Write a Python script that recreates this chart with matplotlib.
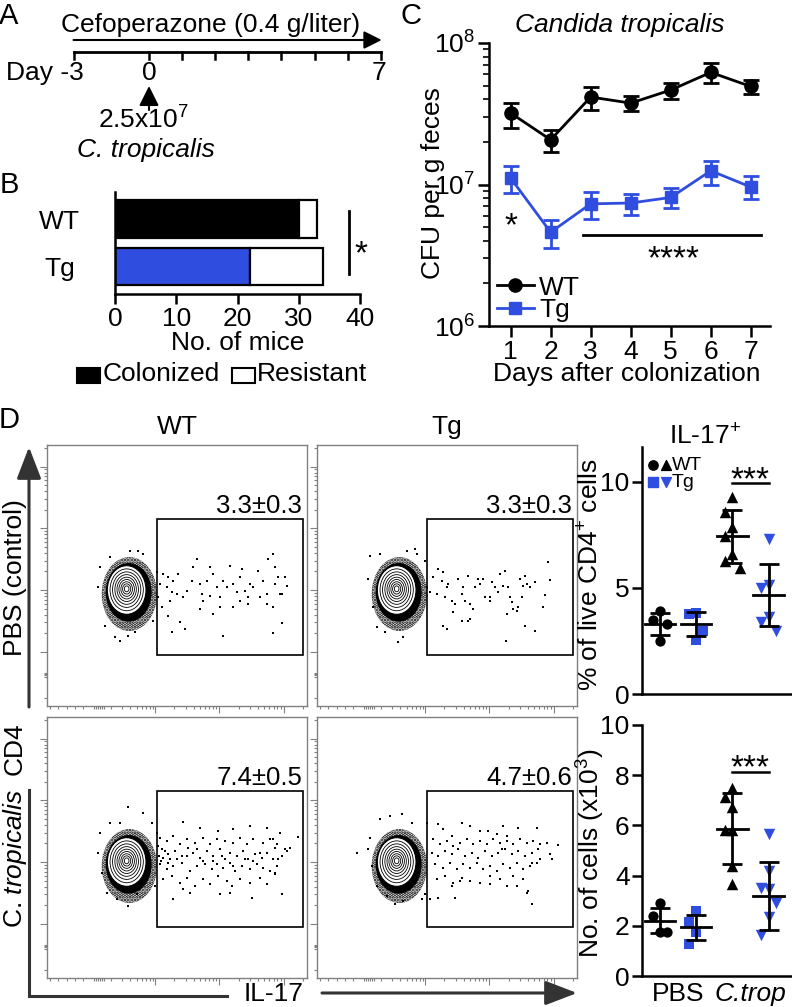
# Candida tropicalis colonization figure (panels A-D)

import numpy as np
import matplotlib as mpl
mpl.use('Agg')
import matplotlib.pyplot as plt
from matplotlib.patches import Ellipse, Rectangle
from matplotlib.lines import Line2D

plt.rcParams['font.family'] = ['Liberation Sans', 'DejaVu Sans']
plt.rcParams['mathtext.fontset'] = 'custom'
plt.rcParams['mathtext.rm'] = 'Liberation Sans'
plt.rcParams['mathtext.it'] = 'Liberation Sans:italic'
plt.rcParams['font.size'] = 19
plt.rcParams['hatch.linewidth'] = 1.8

W, H = 792, 1007
BLUE = '#2f4ee0'
STAR = 24

# ---------------- data ----------------
timeline_days = [-3, 0, 1, 2, 3, 4, 5, 6, 7]

mice_groups = ['WT', 'Tg']
mice_colonized = [30, 22]
mice_resistant = [3, 12]

cfu_days = [1, 2, 3, 4, 5, 6, 7]
wt_cfu = [3.2e7, 2.07e7, 4.15e7, 3.76e7, 4.65e7, 6.2e7, 4.93e7]
wt_cfu_hi = [3.76e7, 2.41e7, 4.88e7, 4.2e7, 5.2e7, 7.2e7, 5.44e7]
wt_cfu_lo = [2.5e7, 1.71e7, 3.37e7, 3.29e7, 4.04e7, 5.2e7, 4.36e7]
tg_cfu = [1.11e7, 4.6e6, 7.3e6, 7.4e6, 8.1e6, 1.25e7, 9.6e6]
tg_cfu_hi = [1.36e7, 5.6e6, 8.9e6, 8.6e6, 9.5e6, 1.46e7, 1.14e7]
tg_cfu_lo = [8.7e6, 3.55e6, 5.7e6, 6.1e6, 6.8e6, 1.0e7, 7.9e6]

# IL-17+ % of live CD4+ cells
il17_wt_pbs = [3.9, 3.5, 3.3, 2.5]
il17_tg_pbs = [3.8, 3.75, 2.95, 2.55]
il17_wt_ct = [9.3, 8.6, 7.9, 7.45, 6.6, 6.25, 5.95]
il17_tg_ct = [7.3, 5.15, 5.0, 3.65, 3.4, 2.95]
il17_mean = [3.3, 3.3, 7.45, 4.68]
il17_sd = [0.5, 0.58, 1.25, 1.47]

# No. of IL-17+ cells (x10^3)
cells_wt_pbs = [2.9, 2.4, 1.75, 1.75]
cells_tg_pbs = [2.58, 2.14, 1.75, 1.29]
cells_wt_ct = [7.5, 7.15, 6.75, 5.8, 5.8, 4.4, 3.65]
cells_tg_ct = [5.65, 4.2, 3.5, 3.45, 2.9, 2.35, 1.65]
cells_mean = [2.21, 1.95, 5.87, 3.2]
cells_sd = [0.5, 0.5, 1.42, 1.36]

gate_freq = ['3.3±0.3', '3.3±0.3', '7.4±0.5', '4.7±0.6']

# flow events (IL-17 channel, CD4 channel)
tl_events = np.array([
    (490,400),(505,410),(520,420),(535,400),(500,440),(515,455),(530,460),(510,480),(550,470),(560,450),
    (580,380),(575,420),(590,355),(600,430),(605,460),(620,420),(630,380),(640,400),(650,440),(660,470),
    (670,420),(680,440),(690,375),(700,430),(710,455),(720,410),(725,385),(735,450),(745,470),(750,430),
    (760,440),(775,390),(790,420),(800,460),(805,355),(820,340),(825,430),(835,410),(845,460),(860,435),
    (640,520),(660,500),(700,500),(720,480),(745,490),(780,470),(800,490),(820,500),(515,575),(555,565),
    (670,585),(820,578),(845,547),(485,500),(505,525),(540,545),(600,505),(610,480),(630,465),(825,380),
    (855,410),(840,460)])
tl_halo = np.array([(300,380),(295,440),(315,555),(345,590),(360,600),(385,585),(405,575),(415,330),
                    (430,340),(390,332),(460,540),(330,350),(470,395),(475,470),(480,430)])

tr_events = np.array([
    (505,385),(520,395),(515,420),(535,430),(500,460),(525,470),(545,480),(520,555),(530,565),(550,515),
    (565,415),(575,460),(580,440),(585,480),(595,405),(600,490),(610,505),(575,540),(600,535),(615,440),
    (625,415),(630,430),(640,415),(645,470),(660,480),(665,425),(675,440),(685,455),(690,400),(700,435),
    (705,390),(715,440),(720,470),(725,485),(710,520),(730,505),(740,510),(745,500),(750,415),(760,435),
    (765,405),(770,430),(780,440),(765,555),(795,425),(795,570),(820,500),(825,462),(835,365),(840,418),
    (707,600),(755,470),(530,440),(555,490),(595,540),(660,470)])
tr_halo = np.array([(300,345),(295,415),(310,500),(320,560),(345,575),(385,605),(400,590),(410,330),
                    (435,325),(440,340),(470,440),(480,455),(490,410),(330,340),(465,360)])

bl_events = np.array([
    (550,328),(600,345),(655,355),(700,350),(750,340),(800,345),(840,360),(895,372),
    (480,375),(500,385),(520,370),(540,395),(560,380),(585,390),(610,375),(630,395),(650,380),(675,385),
    (700,390),(720,375),(740,395),(760,380),(790,390),(810,380),(830,395),(870,405),
    (485,410),(505,425),(525,415),(545,430),(565,405),(580,420),(600,435),(620,415),(640,430),(660,410),
    (675,440),(690,420),(710,430),(730,415),(745,440),(765,425),(785,435),(800,420),(820,440),(845,430),
    (860,415),(480,455),(500,470),(520,460),(545,450),(570,475),(590,460),(610,445),(635,470),(650,455),
    (670,465),(690,450),(705,475),(725,460),(750,470),(770,455),(790,465),(810,475),(830,460),
    (490,500),(515,490),(540,510),(560,495),(585,520),(610,500),(630,515),(655,490),(680,505),(695,520),
    (720,500),(750,510),(780,495),(800,515),(825,485),(570,540),(660,545),(690,540),
    (550,530),(755,555),(845,545),(520,560),(820,380),(825,405),(840,360),(835,440),(855,410),(825,480),
    (475,400),(478,430),(482,445),(490,435),(495,415),(510,440),(505,450),(530,440),(560,430),(590,410),
    (615,455),(640,445),(665,430),(700,460),(735,440),(760,445),(780,420)])
bl_halo = np.array([(300,360),(295,420),(305,480),(320,540),(350,560),(385,580),(410,545),(430,300),
                    (385,283),(360,330),(470,360),(465,520),(330,330),(455,330)])

br_events = np.array([
    (505,335),(520,350),(545,370),(575,330),(600,340),(630,355),(655,355),(680,365),(700,340),(745,345),
    (800,345),(830,390),(865,398),(490,380),(510,395),(530,385),(550,400),(570,390),(590,380),(610,395),
    (630,385),(650,395),(670,380),(690,390),(710,385),(730,395),(750,380),(770,390),(790,385),(810,395),
    (485,420),(505,430),(525,415),(545,425),(565,410),(585,430),(605,420),(625,435),(645,415),(665,430),
    (685,420),(705,410),(725,425),(745,415),(765,430),(785,420),(805,410),(840,425),(845,440),
    (495,455),(520,465),(540,450),(560,470),(580,455),(600,465),(620,450),(640,470),(660,460),(680,475),
    (700,455),(720,465),(740,450),(760,470),(780,460),(800,450),(500,500),(525,490),(550,510),(575,495),
    (600,505),(630,510),(660,490),(690,500),(710,520),(730,490),(760,500),(775,535),(785,575),
    (480,560),(505,555),(555,555),(570,505),(545,520),(660,515),(740,520),(770,540),(710,370),(695,410),
    (810,440),(785,450)])
br_halo = np.array([(300,375),(295,410),(305,460),(320,520),(350,550),(375,575),(400,565),(425,330),
                    (395,305),(360,310),(470,330),(465,545),(330,320),(260,420),(455,560)])

ring_scale = [1.0, 0.86, 0.73, 0.61, 0.5, 0.4, 0.3, 0.21, 0.12]

# ---------------- helpers ----------------
fig = plt.figure(figsize=(W / 100, H / 100), dpi=100)


def px_ax(l, t, r, b):
    return fig.add_axes([l / W, 1 - b / H, (r - l) / W, (b - t) / H])


def swarm(vals, pos, ytol, dx=0.2):
    xs, done = [], []
    for v in vals:
        for k in (0, -1, 1, -2, 2):
            x = pos + k * dx
            if all(abs(v - pv) >= ytol or abs(x - px) > dx / 2 for px, pv in done):
                break
        done.append((x, v))
        xs.append(x)
    return xs


def clean(ax, lw=1.8):
    for s in ['top', 'right']:
        ax.spines[s].set_visible(False)
    for s in ['left', 'bottom']:
        ax.spines[s].set_linewidth(lw)


# ---------------- B: bar chart ----------------
axb = px_ax(115, 192, 360, 294)
ypos = [1, 0]
axb.barh(ypos, mice_colonized, height=0.8, color=['black', BLUE], edgecolor='black', lw=1.6)
axb.barh(ypos, mice_resistant, left=mice_colonized, height=0.8, color='white', edgecolor='black', lw=1.6)
axb.set_xlim(0, 40)
axb.set_ylim(-0.58, 1.57)
axb.set_xticks([0, 10, 20, 30, 40])
axb.set_yticks(ypos, mice_groups)
for lbl in axb.get_yticklabels():
    lbl.set_ha('center')
axb.tick_params(axis='y', length=0, pad=40)
axb.tick_params(axis='x', length=7, width=1.8, pad=2)
axb.set_xlabel('No. of mice', labelpad=0)
clean(axb)

# ---------------- C: CFU time course ----------------
axc = px_ax(489, 43, 770, 326)
wt_cfu_a, tg_cfu_a = np.array(wt_cfu), np.array(tg_cfu)
axc.errorbar(cfu_days, wt_cfu, yerr=[wt_cfu_a - wt_cfu_lo, np.array(wt_cfu_hi) - wt_cfu_a],
             fmt='o-', color='black', ms=9.5, lw=2, elinewidth=2, capsize=6, capthick=2)
axc.errorbar(cfu_days, tg_cfu, yerr=[tg_cfu_a - tg_cfu_lo, np.array(tg_cfu_hi) - tg_cfu_a],
             fmt='s-', color=BLUE, ms=9, lw=2, elinewidth=2, capsize=6, capthick=2)
axc.set_yscale('log')
axc.set_ylim(1e6, 1e8)
axc.set_xlim(0.46, 7.48)
axc.set_xticks(cfu_days)
axc.tick_params(which='major', length=8, width=1.8, pad=2)
axc.tick_params(which='minor', length=4, width=1.2)
axc.tick_params(axis='x', which='minor', length=0)
clean(axc)
axc.plot([2.81, 7.26], [4.4e6, 4.4e6], color='black', lw=2)
axc.text(5.06, 2.57e6, '****', ha='center', va='baseline', fontsize=STAR)
axc.text(1, 4.4e6, '*', ha='center', va='baseline', fontsize=STAR)
leg_handles = [Line2D([], [], color='black', marker='o', ms=9.5, lw=2),
               Line2D([], [], color=BLUE, marker='s', ms=9, lw=2)]
axc.legend(leg_handles, ['WT', 'Tg'], loc='lower left', bbox_to_anchor=(0.0, -0.015), frameon=False,
           handlelength=1.4, handletextpad=0.2, labelspacing=-0.05, borderaxespad=0.3, borderpad=0)

# ---------------- D: flow plots ----------------
def flow(ax, events, halo, freq, off):
    ax.set_xlim(141, 921)
    ax.set_ylim(798 + off, 15 + off)
    cx, cy = 380, 450 + off
    # speckled outer halo, denser inner band, then the contour levels
    ax.add_patch(Ellipse((cx + 8, cy + 12), 166, 222, fill=False, hatch='.....', ec='black',
                         lw=0, zorder=1))
    ax.add_patch(Ellipse((cx + 6, cy + 7), 138, 176, fc='black', ec='none', zorder=1))
    ax.add_patch(Ellipse((cx, cy), 116, 146, fc='white', ec='black', lw=0.8, zorder=2))
    for s in ring_scale[1:]:
        ax.add_patch(Ellipse((cx, cy - (1 - s) * 4), 116 * s, 146 * s, fill=False, ec='black',
                             lw=0.6, zorder=3))
    ax.scatter(events[:, 0], events[:, 1] + off + 2, s=3, marker='s', c='black', lw=0, zorder=2)
    ax.scatter(halo[:, 0], halo[:, 1] + off + 2, s=3, marker='s', c='black', lw=0, zorder=2)
    ax.add_patch(Rectangle((470, 238 + off), 439, 407, fill=False, ec='black', lw=1.2, zorder=4))
    ax.text(906, 198 + off, freq, ha='right', va='center', fontsize=18.5)
    for s in ax.spines.values():
        s.set_color('0.5')
        s.set_linewidth(1)
    ymaj = [635 + off, 450 + off, 265 + off, 80 + off]
    ymin = [b - np.log10(k) * 185 for b in ymaj for k in range(2, 10) if b - np.log10(k) * 185 > 15 + off]
    ymin += [698 + off, 702 + off, 706 + off, 710 + off, 775 + off]
    xmaj = [465, 658, 851]
    xmin = [b + np.log10(k) * 193 for b in [275, 465, 658, 851] for k in range(2, 10)
            if b + np.log10(k) * 193 < 921]
    xmin += [150, 175, 200, 225, 250, 282, 288, 294, 300, 306, 312]
    ax.set_yticks(ymaj)
    ax.set_yticks(ymin, minor=True)
    ax.set_xticks(xmaj)
    ax.set_xticks(xmin, minor=True)
    ax.tick_params(which='both', direction='out', color='0.5', width=0.8,
                   labelleft=False, labelbottom=False)
    ax.tick_params(which='major', length=5)
    ax.tick_params(which='minor', length=2.5)


flow(px_ax(47, 445, 307, 706), tl_events, tl_halo, gate_freq[0], 0)
flow(px_ax(317, 445, 577, 706), tr_events, tr_halo, gate_freq[1], 0)
flow(px_ax(47, 717, 307, 978), bl_events, bl_halo, gate_freq[2], -25)
flow(px_ax(317, 717, 577, 978), br_events, br_halo, gate_freq[3], -25)

# ---------------- D: scatter summaries ----------------
def summary(ax, groups, means, sds, ytol):
    styles = [('o', 'black', 55), ('s', BLUE, 52), ('^', 'black', 68), ('v', BLUE, 68)]
    for i, (vals, (mk, col, sz)) in enumerate(zip(groups, styles)):
        pos = i + 1
        ax.scatter(swarm(vals, pos, ytol), vals, marker=mk, color=col, s=sz, lw=0, zorder=2,
                   clip_on=False)
        ax.plot([pos - 0.42, pos + 0.42], [means[i], means[i]], color='black', lw=2, zorder=3)
        ax.errorbar(pos, means[i], yerr=sds[i], fmt='none', ecolor='black', elinewidth=2,
                    capsize=7, capthick=2, zorder=3)
    ax.set_xlim(0.5, 4.65)
    ax.tick_params(axis='y', length=7, width=1.8, pad=2)
    clean(ax)


axs1 = px_ax(642, 447, 792, 694)
summary(axs1, [il17_wt_pbs, il17_tg_pbs, il17_wt_ct, il17_tg_ct], il17_mean, il17_sd, 0.9)
axs1.set_ylim(0, 11.65)
axs1.set_yticks([0, 5, 10])
axs1.set_xticks([])
axs1.plot([3, 4], [9.95, 9.95], color='black', lw=1.8)
axs1.text(3.5, 9.65, '***', ha='center', va='baseline', fontsize=STAR)
tr = axs1.transAxes
axs1.scatter([0.073], [0.927], marker='o', color='black', s=45, transform=tr, clip_on=False)
axs1.scatter([0.16], [0.927], marker='^', color='black', s=50, transform=tr, clip_on=False)
axs1.scatter([0.073], [0.858], marker='s', color=BLUE, s=45, transform=tr, clip_on=False)
axs1.scatter([0.16], [0.858], marker='v', color=BLUE, s=50, transform=tr, clip_on=False)
axs1.text(0.2, 0.927, 'WT', transform=tr, fontsize=14, va='center')
axs1.text(0.2, 0.858, 'Tg', transform=tr, fontsize=14, va='center')

axs2 = px_ax(642, 725, 792, 976)
summary(axs2, [cells_wt_pbs, cells_tg_pbs, cells_wt_ct, cells_tg_ct], cells_mean, cells_sd, 0.75)
axs2.set_ylim(0, 10)
axs2.set_yticks([0, 2, 4, 6, 8, 10])
axs2.set_xticks([1.5, 3.5], ['PBS', 'C.trop'])
axs2.get_xticklabels()[1].set_style('italic')
axs2.tick_params(axis='x', length=0, pad=4)
axs2.plot([3, 4], [8.13, 8.13], color='black', lw=1.8)
axs2.text(3.5, 7.92, '***', ha='center', va='baseline', fontsize=STAR)

# ---------------- overlay: schematic, labels, arrows ----------------
ov = fig.add_axes([0, 0, 1, 1])
ov.set_xlim(0, W)
ov.set_ylim(H, 0)
ov.axis('off')


def day_x(d):
    return 149 + 33.1 * (d if d >= 0 else d * 0.76)


# A: timeline
ov.plot([day_x(timeline_days[0]), day_x(timeline_days[-1])], [52, 52], color='black', lw=2)
for d in timeline_days:
    ov.plot([day_x(d), day_x(d)], [52, 59], color='black', lw=1.8)
ov.annotate('', xy=(day_x(7) + 1, 40), xytext=(day_x(-3), 40),
            arrowprops=dict(arrowstyle='-|>,head_length=0.4,head_width=0.2', color='black',
                            lw=1.5, mutation_scale=27, shrinkA=0, shrinkB=0))
ov.text(211, 25, 'Cefoperazone (0.4 g/liter)', ha='center', va='center')
ov.text(day_x(-3) + 10, 73, 'Day -3', ha='right', va='center')
ov.text(day_x(0), 73, '0', ha='center', va='center')
ov.text(day_x(7) - 2, 73, '7', ha='center', va='center')
ov.annotate('', xy=(day_x(0), 86), xytext=(day_x(0), 110),
            arrowprops=dict(arrowstyle='-|>,head_length=0.5,head_width=0.25', color='black',
                            lw=1.5, mutation_scale=24, shrinkA=0, shrinkB=0))
ov.text(143, 120, '2.5x10$^{7}$', ha='center', va='center')
ov.text(146, 150, 'C. tropicalis', ha='center', va='center', style='italic')

# panel letters
for letter, x, y in [('A', 9, 16), ('B', 9, 185), ('C', 411, 16), ('D', 9, 420)]:
    ov.text(x, y, letter, ha='center', va='center', fontsize=21)

# B: significance and legend
ov.plot([349, 349], [211, 274], color='black', lw=2)
ov.text(361, 263, '*', ha='center', va='baseline', fontsize=STAR)
ov.add_patch(Rectangle((77, 368), 23, 15, fc='black', ec='black', lw=1.5))
ov.text(103, 374, 'Colonized', ha='left', va='center')
ov.add_patch(Rectangle((232, 368), 23, 15, fc='white', ec='black', lw=1.5))
ov.text(257, 374, 'Resistant', ha='left', va='center')

# C: title and y label
ov.text(620, 25, 'Candida tropicalis', ha='center', va='center', style='italic')
ov.text(433, 183, 'CFU per g feces', ha='center', va='center', rotation=90)
ov.text(627, 374, 'Days after colonization', ha='center', va='center')

# D: headers and flow axis labels
ov.text(177, 427, 'WT', ha='center', va='center')
ov.text(447, 427, 'Tg', ha='center', va='center')
ov.text(705, 437, 'IL-17$^{+}$', ha='center', va='center')
ov.text(591, 575, '% of live CD4$^{+}$ cells', ha='center', va='center', rotation=90)
ov.text(591, 853, 'No. of cells (x10$^{3}$)', ha='center', va='center', rotation=90)
ov.text(15, 578, 'PBS (control)', ha='center', va='center', rotation=90)
ov.text(15, 749, 'CD4', ha='center', va='center', rotation=90)
ov.text(15, 858, r'C. $\mathit{tropicalis}$', ha='center', va='center', rotation=90)
ov.text(274, 994, 'IL-17', ha='center', va='center')
ov.annotate('', xy=(29, 447), xytext=(29, 707),
            arrowprops=dict(arrowstyle='-|>,head_length=0.65,head_width=0.25', color='#333333',
                            lw=2.2, mutation_scale=30, shrinkA=0, shrinkB=0))
ov.plot([29, 29, 227], [790, 996, 996], color='#333333', lw=2.2, solid_joinstyle='miter')
ov.annotate('', xy=(577, 993), xytext=(322, 993),
            arrowprops=dict(arrowstyle='-|>,head_length=0.65,head_width=0.25', color='#333333',
                            lw=2.2, mutation_scale=30, shrinkA=0, shrinkB=0))

plt.savefig('out.png', dpi=100)
